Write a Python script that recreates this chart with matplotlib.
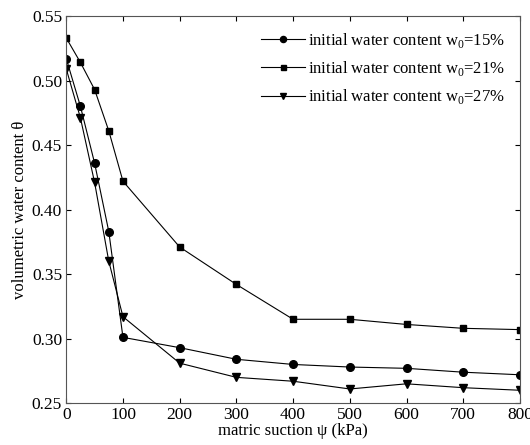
import matplotlib.pyplot as plt

plt.rcParams['font.family'] = ['Liberation Serif', 'DejaVu Serif']
plt.rcParams['mathtext.fontset'] = 'custom'
plt.rcParams['mathtext.rm'] = 'Liberation Serif'

# matric suction (kPa)
suction = [0, 25, 50, 75, 100, 200, 300, 400, 500, 600, 700, 800]

# volumetric water content for each initial water content
theta_15 = [0.517, 0.480, 0.436, 0.383, 0.301, 0.293, 0.284, 0.280, 0.278, 0.277, 0.274, 0.272]
theta_21 = [0.533, 0.514, 0.493, 0.461, 0.422, 0.371, 0.342, 0.315, 0.315, 0.311, 0.308, 0.307]
theta_27 = [0.509, 0.471, 0.421, 0.360, 0.317, 0.281, 0.270, 0.267, 0.261, 0.265, 0.262, 0.260]

labels = ['initial water content w$_0$=15%',
          'initial water content w$_0$=21%',
          'initial water content w$_0$=27%']

fig = plt.figure(figsize=(5.3, 4.45), dpi=100)
ax = fig.add_axes([0.125, 0.094, 0.856, 0.870])

ax.plot(suction, theta_15, color='black', lw=0.8, marker='o', ms=5.5, label=labels[0])
ax.plot(suction, theta_21, color='black', lw=0.8, marker='s', ms=4.5, label=labels[1])
ax.plot(suction, theta_27, color='black', lw=0.8, marker='v', ms=6, label=labels[2])

ax.set_xlim(0, 800)
ax.set_ylim(0.25, 0.55)
ax.set_xticks(range(0, 801, 100))
ax.set_yticks([0.25, 0.30, 0.35, 0.40, 0.45, 0.50, 0.55])
ax.set_yticklabels(['0.25', '0.30', '0.35', '0.40', '0.45', '0.50', '0.55'])
ax.tick_params(direction='in', top=True, right=True, labelsize=12.5, length=3.5, width=0.8, pad=3)
for s in ax.spines.values():
    s.set_color('#555555')
    s.set_linewidth(0.8)

ax.set_xlabel('matric suction \u03c8 (kPa)', fontsize=12, labelpad=0)
ax.set_ylabel('volumetric water content \u03b8', fontsize=12, labelpad=3)

ax.legend(loc='upper right', bbox_to_anchor=(1.0, 1.0), frameon=False, fontsize=12,
          handlelength=2.6, handletextpad=0.2, labelspacing=0.55, markerscale=0.8)

plt.savefig('out.png', dpi=100)
